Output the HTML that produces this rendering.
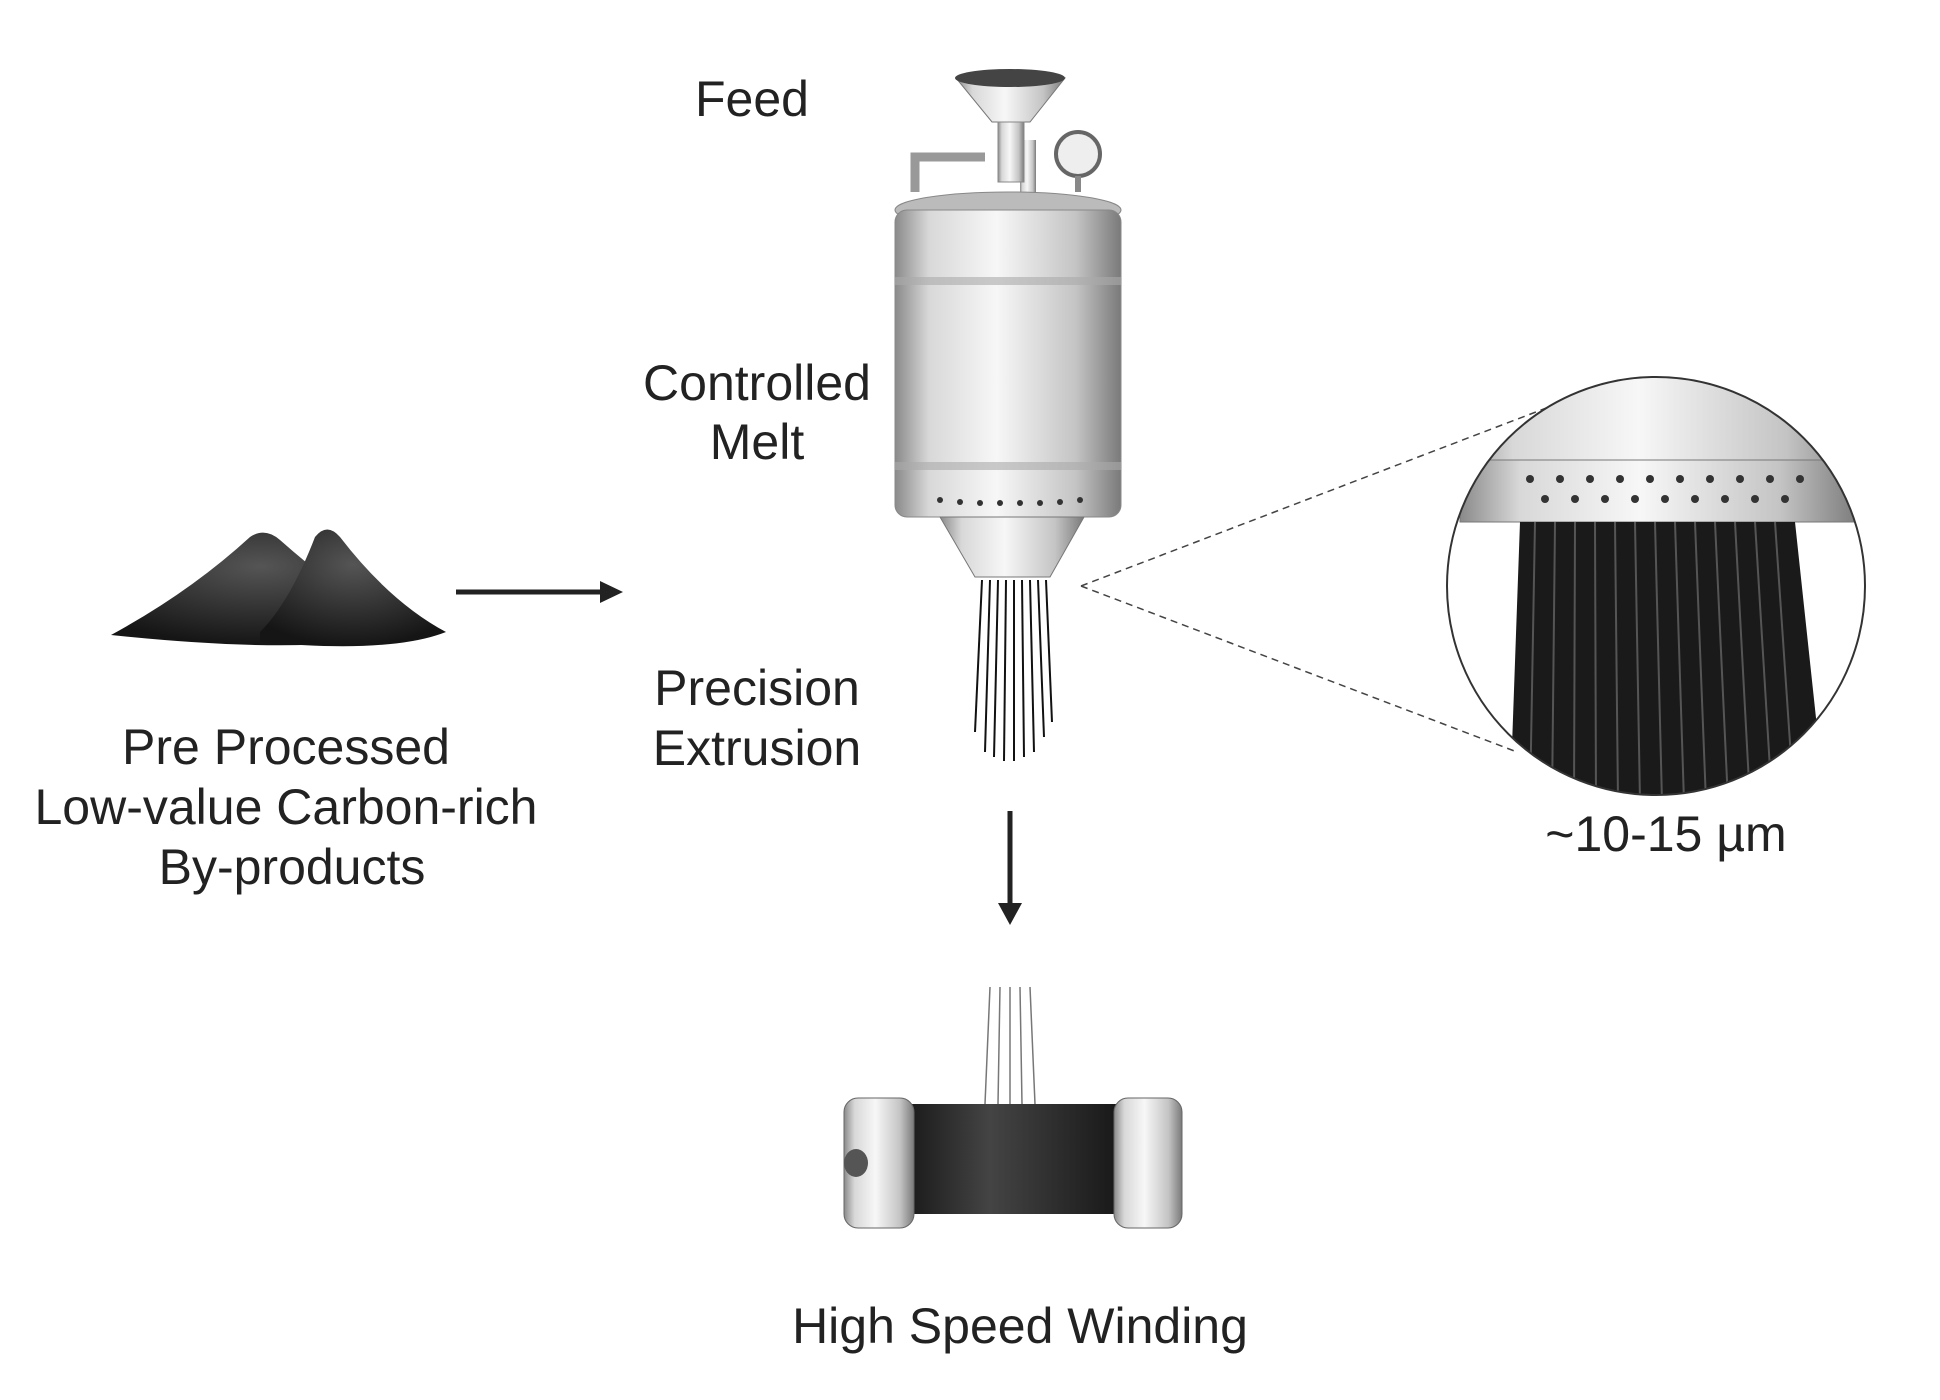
<!DOCTYPE html>
<html><head><meta charset="utf-8"><style>
html,body{margin:0;padding:0;background:#fff;}
svg{display:block}
text{font-family:"Liberation Sans",sans-serif;fill:#222;font-size:50px;text-anchor:middle}
</style></head><body>
<svg width="1940" height="1400" viewBox="0 0 1940 1400" xmlns="http://www.w3.org/2000/svg">
<defs>
<linearGradient id="metal" x1="0" x2="1" y1="0" y2="0">
<stop offset="0" stop-color="#8a8a8a"/><stop offset="0.15" stop-color="#d8d8d8"/><stop offset="0.45" stop-color="#f7f7f7"/><stop offset="0.8" stop-color="#c4c4c4"/><stop offset="1" stop-color="#7a7a7a"/>
</linearGradient>
<linearGradient id="dark" x1="0" x2="1"><stop offset="0" stop-color="#111"/><stop offset="0.4" stop-color="#444"/><stop offset="1" stop-color="#111"/></linearGradient>
<radialGradient id="pile" cx="0.5" cy="0.3" r="0.7"><stop offset="0" stop-color="#555"/><stop offset="1" stop-color="#151515"/></radialGradient>
<clipPath id="circ"><circle cx="1666" cy="594" r="209"/></clipPath>
</defs>
<g transform="translate(-10,-8)">
<path d="M121 643 Q200 600 260 545 Q275 535 290 548 Q360 610 420 640 Q330 665 121 643Z" fill="url(#pile)"/>
<path d="M270 640 Q300 610 325 545 Q337 530 350 545 Q400 610 456 640 Q400 662 270 650Z" fill="url(#pile)"/>

<line x1="466" y1="600" x2="615" y2="600" stroke="#222" stroke-width="5"/>
<polygon points="633,600 610,589 610,611" fill="#222"/>

<rect x="1030" y="148" width="16" height="58" fill="url(#metal)"/>
<path d="M966 86 L1075 86 L1040 130 L1002 130Z" fill="url(#metal)" stroke="#777"/>
<ellipse cx="1020" cy="86" rx="55" ry="9" fill="#444"/>
<rect x="1008" y="130" width="26" height="60" fill="url(#metal)" stroke="#888"/>
<path d="M925 200 L925 165 L995 165" stroke="#999" stroke-width="9" fill="none"/>
<circle cx="1088" cy="162" r="22" fill="#eee" stroke="#666" stroke-width="4"/>
<line x1="1088" y1="184" x2="1088" y2="200" stroke="#888" stroke-width="6"/>
<ellipse cx="1018" cy="218" rx="113" ry="18" fill="#bbb" stroke="#888"/>
<rect x="905" y="218" width="226" height="307" rx="12" fill="url(#metal)" stroke="#888"/>
<rect x="905" y="285" width="226" height="8" fill="#aaa" opacity="0.6"/>
<rect x="905" y="470" width="226" height="8" fill="#aaa" opacity="0.6"/>
<g fill="#333">
<circle cx="950" cy="508" r="3"/><circle cx="970" cy="510" r="3"/><circle cx="990" cy="511" r="3"/><circle cx="1010" cy="511" r="3"/><circle cx="1030" cy="511" r="3"/><circle cx="1050" cy="511" r="3"/><circle cx="1070" cy="510" r="3"/><circle cx="1090" cy="508" r="3"/>
</g>
<path d="M950 525 L1094 525 L1060 585 L985 585Z" fill="url(#metal)" stroke="#777"/>
<g stroke="#111" stroke-width="2">
<line x1="992" y1="588" x2="985" y2="740"/><line x1="1000" y1="588" x2="995" y2="760"/><line x1="1008" y1="588" x2="1004" y2="765"/><line x1="1016" y1="588" x2="1014" y2="769"/><line x1="1024" y1="588" x2="1024" y2="769"/><line x1="1032" y1="588" x2="1034" y2="765"/><line x1="1040" y1="588" x2="1044" y2="760"/><line x1="1048" y1="588" x2="1054" y2="745"/><line x1="1056" y1="588" x2="1062" y2="730"/>
</g>

<line x1="1091" y1="594" x2="1572" y2="410" stroke="#444" stroke-width="1.5" stroke-dasharray="7,5"/>
<line x1="1091" y1="594" x2="1527" y2="760" stroke="#444" stroke-width="1.5" stroke-dasharray="7,5"/>

<g clip-path="url(#circ)">
<rect x="1450" y="380" width="440" height="430" fill="#fff"/>
<path d="M1460 530 Q1666 440 1880 530 L1880 380 L1460 380Z" fill="url(#metal)"/>
<rect x="1470" y="468" width="400" height="62" fill="url(#metal)" stroke="#777"/>
<g fill="#333">
<circle cx="1540" cy="487" r="4"/><circle cx="1570" cy="487" r="4"/><circle cx="1600" cy="487" r="4"/><circle cx="1630" cy="487" r="4"/><circle cx="1660" cy="487" r="4"/><circle cx="1690" cy="487" r="4"/><circle cx="1720" cy="487" r="4"/><circle cx="1750" cy="487" r="4"/><circle cx="1780" cy="487" r="4"/><circle cx="1810" cy="487" r="4"/>
<circle cx="1555" cy="507" r="4"/><circle cx="1585" cy="507" r="4"/><circle cx="1615" cy="507" r="4"/><circle cx="1645" cy="507" r="4"/><circle cx="1675" cy="507" r="4"/><circle cx="1705" cy="507" r="4"/><circle cx="1735" cy="507" r="4"/><circle cx="1765" cy="507" r="4"/><circle cx="1795" cy="507" r="4"/>
</g>
<path d="M1530 530 L1805 530 L1835 810 L1520 810Z" fill="#1a1a1a"/>
<g stroke="#555" stroke-width="2">
<line x1="1545" y1="530" x2="1540" y2="810"/><line x1="1565" y1="530" x2="1562" y2="810"/><line x1="1585" y1="530" x2="1584" y2="810"/><line x1="1605" y1="530" x2="1606" y2="810"/><line x1="1625" y1="530" x2="1628" y2="810"/><line x1="1645" y1="530" x2="1650" y2="810"/><line x1="1665" y1="530" x2="1672" y2="810"/><line x1="1685" y1="530" x2="1694" y2="810"/><line x1="1705" y1="530" x2="1716" y2="810"/><line x1="1725" y1="530" x2="1738" y2="810"/><line x1="1745" y1="530" x2="1760" y2="810"/><line x1="1765" y1="530" x2="1782" y2="810"/><line x1="1785" y1="530" x2="1804" y2="810"/>
</g>
</g>
<circle cx="1666" cy="594" r="209" fill="none" stroke="#333" stroke-width="2"/>

<line x1="1020" y1="819" x2="1020" y2="915" stroke="#222" stroke-width="5"/>
<polygon points="1020,933 1008,911 1032,911" fill="#222"/>

<g stroke="#777" stroke-width="1.5">
<line x1="1000" y1="995" x2="995" y2="1112"/><line x1="1010" y1="995" x2="1008" y2="1112"/><line x1="1020" y1="995" x2="1020" y2="1112"/><line x1="1030" y1="995" x2="1032" y2="1112"/><line x1="1040" y1="995" x2="1045" y2="1112"/>
</g>
<rect x="900" y="1112" width="250" height="110" fill="url(#dark)"/>
<rect x="854" y="1106" width="70" height="130" rx="14" fill="url(#metal)" stroke="#666"/>
<ellipse cx="866" cy="1171" rx="12" ry="14" fill="#555"/>
<rect x="1124" y="1106" width="68" height="130" rx="14" fill="url(#metal)" stroke="#666"/>

<text x="762" y="124">Feed</text>
<text x="767" y="408">Controlled</text>
<text x="767" y="467">Melt</text>
<text x="767" y="713">Precision</text>
<text x="767" y="773">Extrusion</text>
<text x="296" y="772">Pre Processed</text>
<text x="296" y="832">Low-value Carbon-rich</text>
<text x="302" y="892">By-products</text>
<text x="1676" y="859">~10-15 µm</text>
<text x="1030" y="1351">High Speed Winding</text>
</g>
</svg>
</body></html>
